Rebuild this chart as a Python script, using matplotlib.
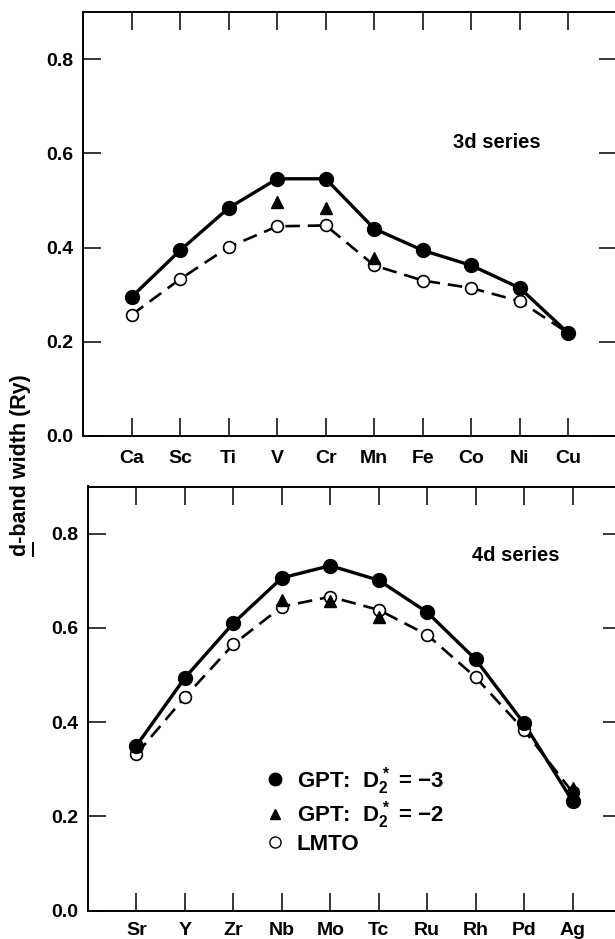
import matplotlib
matplotlib.use('Agg')
import matplotlib.pyplot as plt
from matplotlib.lines import Line2D

plt.rcParams['font.family'] = 'Liberation Sans'
plt.rcParams['font.weight'] = 'bold'
plt.rcParams['mathtext.fontset'] = 'custom'
plt.rcParams['mathtext.rm'] = 'Liberation Sans:bold'
plt.rcParams['mathtext.it'] = 'Liberation Sans:bold'
plt.rcParams['mathtext.bf'] = 'Liberation Sans:bold'

# 3d series
el_3d = ['Ca', 'Sc', 'Ti', 'V', 'Cr', 'Mn', 'Fe', 'Co', 'Ni', 'Cu']
gpt3_3d = [0.295, 0.394, 0.484, 0.546, 0.546, 0.440, 0.394, 0.362, 0.314, 0.218]
lmto_3d = [0.257, 0.333, 0.401, 0.445, 0.447, 0.362, 0.330, 0.314, 0.286, 0.218]
tri_idx_3d = [3, 4, 5]
gpt2_3d = [0.497, 0.485, 0.378]

# 4d series
el_4d = ['Sr', 'Y', 'Zr', 'Nb', 'Mo', 'Tc', 'Ru', 'Rh', 'Pd', 'Ag']
gpt3_4d = [0.350, 0.494, 0.610, 0.706, 0.732, 0.701, 0.633, 0.533, 0.397, 0.232]
lmto_4d = [0.332, 0.453, 0.565, 0.645, 0.666, 0.638, 0.585, 0.495, 0.383, 0.251]
tri_idx_4d = [3, 4, 5, 9]
gpt2_4d = [0.659, 0.657, 0.624, 0.260]

yticks = [0.0, 0.2, 0.4, 0.6, 0.8]

fig = plt.figure(figsize=(6.15, 9.39), dpi=100, facecolor='white')
ax1 = fig.add_axes([83/615, 1-436/939, 534/615, 424/939])
ax2 = fig.add_axes([88/615, 1-910.5/939, 533/615, 424/939])


def panel(ax, els, gpt3, lmto, tri_idx, gpt2, label, lx, ly, xpad):
    x = list(range(len(els)))
    ax.plot(x, lmto, color='black', lw=1.9, dashes=(5.5, 3), zorder=2)
    ax.plot(x, gpt3, color='black', lw=2.4, zorder=3)
    ax.plot(x, lmto, 'o', ms=8.5, mfc='white', mec='black', mew=1.2, zorder=4)
    ax.plot(x, gpt3, 'o', ms=10, color='black', zorder=5)
    ax.plot(tri_idx, gpt2, '^', ms=8, color='black', zorder=6)
    ax.set_xlim(-1, 10)
    ax.set_ylim(0, 0.9)
    ax.set_xticks(x)
    ax.set_xticklabels(els)
    ax.set_yticks(yticks)
    ax.set_yticklabels(['%.1f' % v for v in yticks])
    ax.tick_params(axis='both', direction='in', length=13, width=1.1,
                   top=True, right=True, labelsize=14)
    ax.tick_params(axis='x', pad=xpad)
    ax.tick_params(axis='y', pad=7)
    for s in ax.spines.values():
        s.set_linewidth(1.4)
    ax.text(lx, ly, label, transform=ax.transAxes, fontsize=14.5,
            fontweight='bold', ha='center', va='center')


panel(ax1, el_3d, gpt3_3d, lmto_3d, tri_idx_3d, gpt2_3d, '3d series', 0.775, 0.693, 10)
panel(ax2, el_4d, gpt3_4d, lmto_4d, tri_idx_4d, gpt2_4d, '4d series', 0.803, 0.838, 8)

handles = [
    Line2D([], [], ls='none', marker='o', ms=9, color='black'),
    Line2D([], [], ls='none', marker='^', ms=7, color='black'),
    Line2D([], [], ls='none', marker='o', ms=8, mfc='white', mec='black', mew=1.0),
]
labels = ['GPT:  $D_2^*$ = \u22123', 'GPT:  $D_2^*$ = \u22122', 'LMTO']
ax2.legend(handles, labels, loc='upper left', bbox_to_anchor=(0.31, 0.37),
           frameon=False, fontsize=16, handlelength=1.0, handletextpad=0.45,
           labelspacing=0.12, borderpad=0)

# y label with underlined "d"
ylab = fig.text(21/615, 1-465/939, 'd-band width (Ry)', rotation=90,
                ha='center', va='center', fontsize=15.5, fontweight='bold')
r = fig.canvas.get_renderer()
bb = ylab.get_window_extent(r)
tmp = fig.text(0, 0, 'd', fontsize=15.5, fontweight='bold')
dw = tmp.get_window_extent(r).width
tmp.remove()
W, H = fig.bbox.width, fig.bbox.height
ux = (bb.x1 + 1) / W
fig.add_artist(Line2D([ux, ux], [bb.y0 / H, (bb.y0 + dw) / H],
                      color='black', lw=1.4))

fig.savefig('out.png', dpi=100, facecolor='white')
